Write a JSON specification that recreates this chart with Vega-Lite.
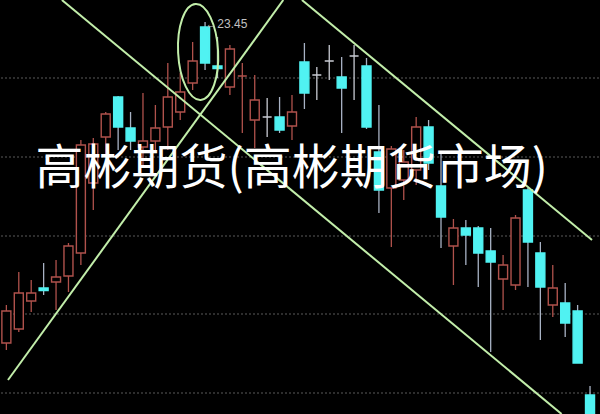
{
  "$schema": "https://vega.github.io/schema/vega-lite/v6.json",
  "width": 600,
  "height": 414,
  "autosize": {"type": "fit", "contains": "padding"},
  "padding": 0,
  "background": "#000000",
  "config": {"view": {"stroke": null, "fill": "#000000"}},
  "datasets": {
    "candles": [
      {"i": 0, "o": 17.03, "c": 17.67, "h": 17.79, "l": 16.89, "kind": "up"},
      {"i": 1, "o": 17.31, "c": 18.03, "h": 18.45, "l": 17.25, "kind": "up"},
      {"i": 2, "o": 17.87, "c": 18.03, "h": 18.29, "l": 17.65, "kind": "up"},
      {"i": 3, "o": 18.13, "c": 18.08, "h": 18.63, "l": 17.99, "kind": "down"},
      {"i": 4, "o": 18.25, "c": 18.35, "h": 18.69, "l": 17.69, "kind": "up"},
      {"i": 5, "o": 18.37, "c": 18.97, "h": 19.03, "l": 18.05, "kind": "up"},
      {"i": 6, "o": 18.83, "c": 20.99, "h": 21.09, "l": 18.59, "kind": "up"},
      {"i": 7, "o": 20.23, "c": 21.01, "h": 21.13, "l": 19.69, "kind": "up"},
      {"i": 8, "o": 21.15, "c": 21.61, "h": 21.65, "l": 20.75, "kind": "up"},
      {"i": 9, "o": 21.95, "c": 21.35, "h": 21.97, "l": 20.89, "kind": "down"},
      {"i": 10, "o": 21.33, "c": 21.07, "h": 21.65, "l": 20.89, "kind": "down"},
      {"i": 11, "o": 20.95, "c": 21.07, "h": 22.03, "l": 20.59, "kind": "up"},
      {"i": 12, "o": 21.07, "c": 21.33, "h": 21.79, "l": 20.89, "kind": "up"},
      {"i": 13, "o": 21.35, "c": 21.95, "h": 22.63, "l": 20.89, "kind": "up"},
      {"i": 14, "o": 21.65, "c": 22.05, "h": 22.43, "l": 21.49, "kind": "up"},
      {"i": 15, "o": 22.23, "c": 22.67, "h": 23.05, "l": 22.09, "kind": "up"},
      {"i": 16, "o": 23.35, "c": 22.63, "h": 23.45, "l": 22.49, "kind": "down"},
      {"i": 17, "o": 22.57, "c": 22.52, "h": 23.15, "l": 22.33, "kind": "down"},
      {"i": 18, "o": 22.15, "c": 22.91, "h": 22.99, "l": 21.99, "kind": "up"},
      {"i": 19, "o": 22.37, "c": 22.37, "h": 22.63, "l": 21.23, "kind": "up"},
      {"i": 20, "o": 21.49, "c": 21.89, "h": 22.39, "l": 20.93, "kind": "up"},
      {"i": 21, "o": 21.55, "c": 21.55, "h": 21.93, "l": 21.15, "kind": "cross"},
      {"i": 22, "o": 21.55, "c": 21.29, "h": 21.95, "l": 21.23, "kind": "down"},
      {"i": 23, "o": 21.37, "c": 21.65, "h": 21.99, "l": 21.09, "kind": "up"},
      {"i": 24, "o": 22.65, "c": 22.03, "h": 23.03, "l": 21.71, "kind": "down"},
      {"i": 25, "o": 22.39, "c": 22.39, "h": 22.55, "l": 21.89, "kind": "cross"},
      {"i": 26, "o": 22.67, "c": 22.67, "h": 22.99, "l": 22.29, "kind": "cross"},
      {"i": 27, "o": 22.35, "c": 22.13, "h": 22.75, "l": 21.23, "kind": "down"},
      {"i": 28, "o": 22.77, "c": 22.77, "h": 22.99, "l": 21.89, "kind": "cross"},
      {"i": 29, "o": 22.57, "c": 21.35, "h": 22.73, "l": 21.31, "kind": "down"},
      {"i": 30, "o": 20.85, "c": 20.09, "h": 21.79, "l": 19.63, "kind": "down"},
      {"i": 31, "o": 20.13, "c": 20.91, "h": 20.97, "l": 18.95, "kind": "up"},
      {"i": 32, "o": 20.29, "c": 20.65, "h": 20.89, "l": 19.89, "kind": "up"},
      {"i": 33, "o": 20.49, "c": 21.35, "h": 21.55, "l": 20.19, "kind": "up"},
      {"i": 34, "o": 21.35, "c": 20.63, "h": 21.49, "l": 20.49, "kind": "down"},
      {"i": 35, "o": 20.17, "c": 19.55, "h": 20.85, "l": 18.93, "kind": "down"},
      {"i": 36, "o": 18.97, "c": 19.33, "h": 19.51, "l": 18.19, "kind": "up"},
      {"i": 37, "o": 19.33, "c": 19.19, "h": 19.49, "l": 18.59, "kind": "down"},
      {"i": 38, "o": 19.33, "c": 18.83, "h": 19.37, "l": 18.15, "kind": "down"},
      {"i": 39, "o": 18.87, "c": 18.65, "h": 19.33, "l": 16.85, "kind": "down"},
      {"i": 40, "o": 18.31, "c": 18.59, "h": 18.79, "l": 17.69, "kind": "up"},
      {"i": 41, "o": 18.19, "c": 19.53, "h": 19.59, "l": 18.09, "kind": "up"},
      {"i": 42, "o": 20.09, "c": 19.05, "h": 20.13, "l": 18.15, "kind": "down"},
      {"i": 43, "o": 18.83, "c": 18.15, "h": 19.05, "l": 17.09, "kind": "down"},
      {"i": 44, "o": 17.79, "c": 18.13, "h": 18.59, "l": 17.55, "kind": "up"},
      {"i": 45, "o": 17.83, "c": 17.43, "h": 18.23, "l": 17.15, "kind": "down"},
      {"i": 46, "o": 17.67, "c": 16.63, "h": 17.79, "l": 16.63, "kind": "down"},
      {"i": 47, "o": 15.99, "c": 15.61, "h": 16.17, "l": 15.61, "kind": "down"}
    ],
    "grid": [
      {"p": 22.33}, {"p": 20.75}, {"p": 19.17}, {"p": 17.61}, {"p": 16.03}
    ],
    "trend": [
      {"x1": 4.47, "p1": 23.89, "x2": 44.71, "p2": 15.61},
      {"x1": 0.13, "p1": 16.29, "x2": 22.30, "p2": 23.89},
      {"x1": 23.80, "p1": 23.89, "x2": 47.16, "p2": 19.09}
    ],
    "ring": [{"i": 15.44, "p": 22.85}],
    "peak": [{"i": 16.02, "p": 23.41, "label": "←23.45"}],
    "title": [{"i": 2.34, "p": 20.49, "label": "高彬期货(高彬期货市场)"}]
  },
  "layer": [
    {
      "data": {"name": "grid"},
      "mark": {"type": "rule", "color": "#5a5a5a", "strokeDash": [2, 2], "strokeWidth": 1},
      "encoding": {
        "y": {"field": "p", "type": "quantitative", "scale": {"domain": [15.61, 23.89], "nice": false, "zero": false}, "axis": null}
      }
    },
    {
      "data": {"name": "candles"},
      "mark": {"type": "rule", "strokeWidth": 1.3, "clip": true},
      "encoding": {
        "x": {"field": "i", "type": "quantitative", "scale": {"domain": [-0.03, 47.32], "nice": false, "zero": false}, "axis": null},
        "y": {"field": "l", "type": "quantitative", "scale": {"domain": [15.61, 23.89], "nice": false, "zero": false}, "axis": null},
        "y2": {"field": "h"},
        "stroke": {"field": "kind", "type": "nominal", "scale": {"domain": ["up", "down", "cross"], "range": ["#b0524c", "#a8b2c4", "#c9cbd3"]}, "legend": null}
      }
    },
    {
      "data": {"name": "candles"},
      "mark": {"type": "bar", "size": 9, "strokeWidth": 1.4, "clip": true},
      "encoding": {
        "x": {"field": "i", "type": "quantitative", "axis": null},
        "y": {"field": "o", "type": "quantitative", "axis": null},
        "y2": {"field": "c"},
        "fill": {"field": "kind", "type": "nominal", "scale": {"domain": ["up", "down", "cross"], "range": ["#000000", "#50f2f2", "#000000"]}, "legend": null},
        "stroke": {"field": "kind", "type": "nominal", "scale": {"domain": ["up", "down", "cross"], "range": ["#b0524c", "#50f2f2", "#c9cbd3"]}, "legend": null}
      }
    },
    {
      "data": {"name": "trend"},
      "mark": {"type": "rule", "color": "#c2eeaa", "strokeWidth": 2, "clip": true},
      "encoding": {
        "x": {"field": "x1", "type": "quantitative", "axis": null},
        "x2": {"field": "x2"},
        "y": {"field": "p1", "type": "quantitative", "axis": null},
        "y2": {"field": "p2"}
      }
    },
    {
      "data": {"name": "ring"},
      "mark": {"type": "point", "filled": false, "shape": "M0,-1 C0.2301,-1 0.4167,-0.5523 0.4167,0 C0.4167,0.5523 0.2301,1 0,1 C-0.2301,1 -0.4167,0.5523 -0.4167,0 C-0.4167,-0.5523 -0.2301,-1 0,-1 Z", "size": 9216, "stroke": "#c2eeaa", "strokeWidth": 2, "opacity": 1, "angle": -3},
      "encoding": {
        "x": {"field": "i", "type": "quantitative", "axis": null},
        "y": {"field": "p", "type": "quantitative", "axis": null}
      }
    },
    {
      "data": {"name": "peak"},
      "mark": {"type": "text", "align": "left", "baseline": "middle", "font": "Liberation Sans", "fontSize": 12, "color": "#c0c0c0"},
      "encoding": {
        "x": {"field": "i", "type": "quantitative", "axis": null},
        "y": {"field": "p", "type": "quantitative", "axis": null},
        "text": {"field": "label"}
      }
    },
    {
      "data": {"name": "title"},
      "mark": {"type": "text", "align": "left", "baseline": "middle", "font": "Noto Sans CJK SC", "fontSize": 48, "fontWeight": "normal", "color": "#ffffff"},
      "encoding": {
        "x": {"field": "i", "type": "quantitative", "axis": null},
        "y": {"field": "p", "type": "quantitative", "axis": null},
        "text": {"field": "label"}
      }
    }
  ],
  "resolve": {"scale": {"stroke": "independent", "fill": "independent"}}
}
